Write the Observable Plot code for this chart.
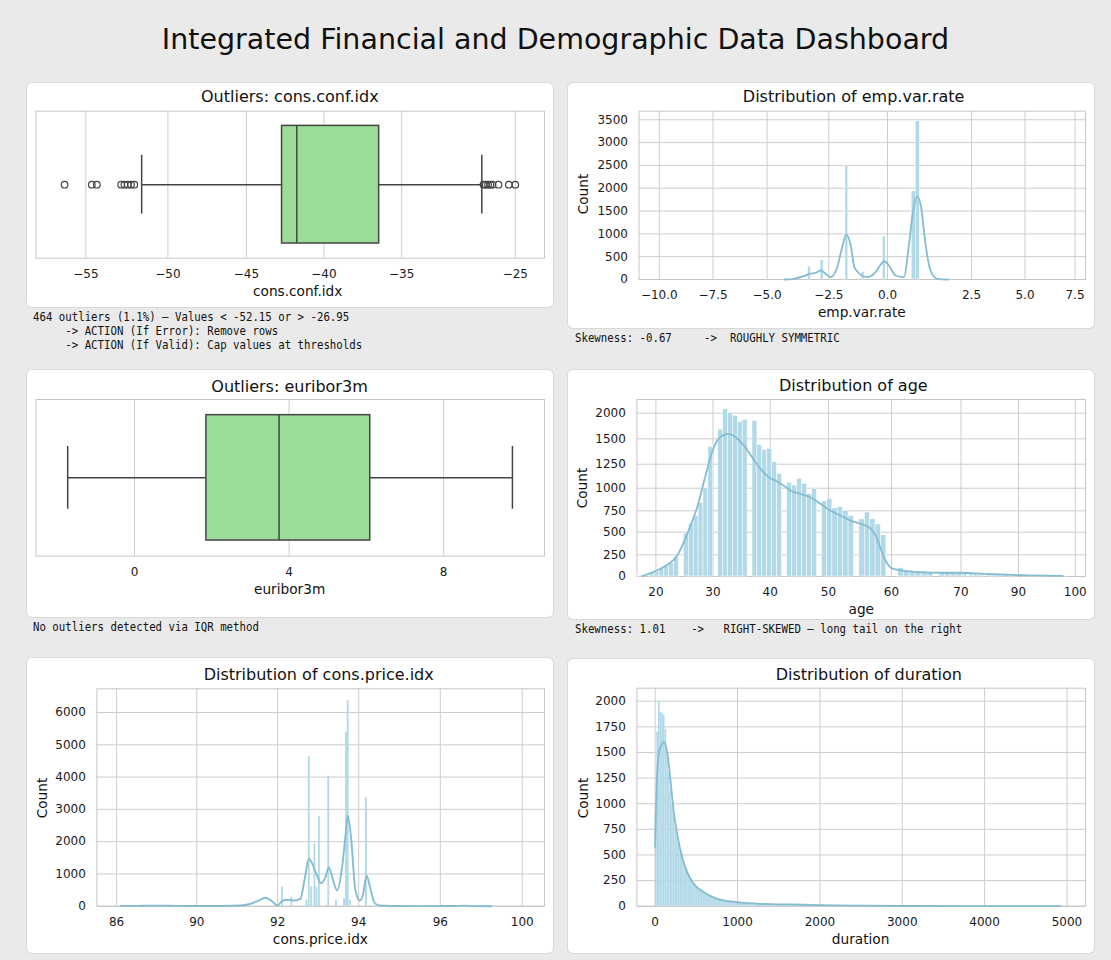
<!DOCTYPE html>
<html>
<head>
<meta charset="utf-8">
<script src="https://cdn.jsdelivr.net/npm/d3@7"></script>
<script src="https://cdn.jsdelivr.net/npm/@observablehq/plot@0.6"></script>
<style>
  html, body { margin: 0; padding: 0; background: #eaeaea; }
  body { font-family: "DejaVu Sans", sans-serif; color: #111; }
  #root { position: relative; width: 1111px; height: 960px; overflow: hidden; }
  .main-title { position: absolute; left: 0; top: 26px; width: 1111px; text-align: center; font-size: 28.5px; line-height: 28px; color: #111; }
  .panel { position: absolute; background: #fff; border-radius: 5px; box-shadow: 0 0 0 1px #d9d9d9; }
  .panel svg { position: absolute; left: 0; top: 0; }
  .ptitle { position: absolute; font-size: 16px; line-height: 16px; white-space: nowrap; transform: translate(-50%, -50%); color: #111; }
  .xlab { position: absolute; font-size: 13.7px; line-height: 14px; white-space: nowrap; transform: translate(-50%, -50%); color: #111; }
  .ylab { position: absolute; font-size: 13.7px; line-height: 14px; white-space: nowrap; transform: translate(-50%, -50%) rotate(-90deg); color: #111; }
  .note { position: absolute; font-family: "DejaVu Sans Mono", monospace; font-size: 11.4px; line-height: 14.2px; white-space: pre; color: #111; transform: scaleX(0.941); transform-origin: 0 0; }
</style>
</head>
<body>
<div id="root"></div>
<script>
// ======================= DATA =======================

// --- Outliers: cons.conf.idx (box plot) ---
const confStats = [-51.6, -42.7, -41.75, -36.45, -27.95]; // lower whisker, Q1, median, Q3, upper whisker
const confOutliers = [-56.3, -54.64, -54.33, -52.85, -52.65, -52.45, -52.25, -52.05,
                      -27.8, -27.6, -27.4, -27.2, -27.0, -26.48, -25.57, -25.0];
const confTicks = [-55, -50, -45, -40, -35, -25];

// --- Outliers: euribor3m (box plot) ---
const euriborStats = [-1.73, 1.86, 3.74, 6.10, 9.78];
const euriborTicks = [0, 4, 8];

// --- Distribution of emp.var.rate ---
const empTicks = [-10, -7.5, -5, -2.5, 0, 2.5, 5, 7.5];
const empYTicks = [0, 500, 1000, 1500, 2000, 2500, 3000, 3500];
const empBinCenters = [-3.28, -2.77, -1.73, -1.04, -0.14, 0.78, 0.90];
const empBinCounts  = [280, 420, 2480, 160, 940, 1930, 3470];
const empKdeX = [-4.3, -3.92, -3.52, -3.28, -3.04, -2.81, -2.63, -2.43, -2.14, -1.93, -1.76, -1.58, -1.41, -1.15, -0.87,
                 -0.51, -0.30, -0.13, 0.04, 0.24, 0.49, 0.63, 0.75, 0.88, 1.0, 1.13, 1.28, 1.48, 1.8];
const empKdeY = [0, 15, 72, 125, 147, 197, 125, 50, 270, 708, 985, 782, 270, 110, 50,
                 160, 322, 401, 307, 88, 50, 708, 1440, 1820, 1585, 782, 197, 15, 0];

// --- Distribution of age ---
const ageXTicks = [20, 30, 40, 50, 60, 70, 90, 100];
const ageYTicks = [0, 250, 500, 750, 1000, 1250, 1500, 2000];
const ageYears = [17, 18, 19, 20, 21, 22, 23, 24, 25, 26, 27, 28, 29, 30, 31, 32, 33, 34, 35, 36,
                  37, 38, 39, 40, 41, 42, 43, 44, 45, 46, 47, 48, 49, 50, 51, 52, 53, 54, 55, 56,
                  57, 58, 59, 60, 61, 62, 63, 64, 65, 66, 67, 68, 69, 70, 71, 72, 73, 74, 75, 76,
                  77, 78, 79, 80, 81, 82, 83, 84, 85, 86, 87, 88, 89, 90, 91, 92, 93, 94, 95, 96, 97, 98];
const ageCounts = [5, 12, 35, 55, 90, 125, 150, 220, 480, 600, 690, 840, 1000, 1420, 1680, 2080, 2000, 1950, 1830, 1870,
                   1850, 1440, 1390, 1400, 1270, 1146, 1056, 1028, 1098, 1046, 932, 993, 855, 882, 775, 790, 750, 690, 650, 730,
                   650, 590, 465, 0, 95, 65, 60, 55, 50, 48, 45, 42, 40, 38, 35, 33, 30, 28, 26, 24,
                   22, 20, 18, 17, 15, 14, 12, 11, 10, 9, 8, 7, 6, 5, 5, 4, 4, 3, 3, 2, 2, 2];
const ageKdeX = [17.6, 19.05, 20.8, 22.26, 23.73, 24.89, 26.06, 27.23, 28.39, 29.56, 30.73, 31.89, 32.76, 33.94, 35.39,
                 36.85, 38.3, 39.76, 41.18, 42.6, 43.46, 45.17, 46.9, 48.6, 50.3, 51.9, 53.5, 55.1, 56.4, 57.5,
                 58.3, 59.05, 59.8, 60.58, 62.26, 64.17, 67.05, 70, 78, 86.4, 92, 97.8];
const ageKdeY = [3, 38, 89, 146, 242, 390, 578, 790, 1062, 1319, 1483, 1578, 1598, 1531, 1434,
                 1319, 1202, 1115, 1070, 1014, 975, 938, 900, 827, 753, 695, 636, 598, 558, 463,
                 313, 184, 107, 81, 61, 50, 43, 43, 30, 20, 13, 8];

// --- Distribution of cons.price.idx ---
const priceXTicks = [86, 90, 92, 94, 96, 100];
const priceYTicks = [0, 1000, 2000, 3000, 4000, 5000, 6000];
const priceBinCenters = [92.12, 92.35, 92.72, 92.78, 92.84, 92.92, 92.97, 93.03, 93.26, 93.45, 93.65, 93.70, 93.74, 93.80, 94.19];
const priceBinCounts  = [590, 280, 200, 4640, 600, 1930, 580, 2780, 4030, 170, 230, 5390, 6370, 180, 3360];
const priceKdeX = [86.2, 87.0, 88.0, 89.0, 90.0, 90.6, 91.08, 91.33, 91.53, 91.70, 91.86, 91.99, 92.11, 92.23, 92.40,
                   92.56, 92.66, 92.77, 92.88, 92.97, 93.07, 93.18, 93.26, 93.37, 93.47, 93.59, 93.67, 93.73, 93.81, 93.92,
                   94.03, 94.11, 94.19, 94.28, 94.38, 94.5, 94.8, 95.5, 96.5, 97.2, 97.6, 98.5];
const priceKdeY = [8, 10, 14, 10, 6, 8, 20, 75, 176, 260, 155, 20, 155, 198, 176,
                   229, 796, 1468, 1240, 951, 713, 898, 1208, 796, 486, 1208, 2138, 2810, 2138, 486,
                   176, 384, 951, 589, 124, 20, 5, 3, 5, 18, 3, 0];

// --- Distribution of duration ---
const durXTicks = [0, 1000, 2000, 3000, 4000, 5000];
const durYTicks = [0, 250, 500, 750, 1000, 1250, 1500, 1750, 2000];
const durEdges = d3.range(0, 1000, 20).concat([1000, 1100, 1200, 1300, 1400, 1500, 1700, 1900, 2200, 2500, 3000, 3600, 4200, 4920]);
const durCounts = [900, 1700, 2000, 1890, 1880, 1860, 1720, 1500, 1300, 1130,
                   990, 870, 770, 690, 610, 545, 485, 430, 385, 345,
                   310, 280, 252, 228, 207, 190, 175, 162, 150, 140,
                   130, 121, 113, 106, 99, 92, 84, 76, 70, 64,
                   59, 55, 51, 48, 45, 43, 41, 40, 39, 38,
                   34, 29, 24, 20, 16, 12, 9, 6, 4, 3, 1.5, 1, 0.5];
const durKdeX = [0, 8, 24, 44, 73, 104, 137, 165, 194, 226, 267, 328, 388, 468, 590, 752, 995, 1278, 1642, 2000, 2500, 3000, 4000, 4920];
const durKdeY = [580, 900, 1292, 1487, 1568, 1600, 1536, 1389, 1161, 917, 706, 478, 332, 218, 137, 72, 39, 23, 17, 10, 5, 2, 1, 0];

// --- Texts ---
const mainTitle = "Integrated Financial and Demographic Data Dashboard";
const note1 = "464 outliers (1.1%) \u2013 Values < -52.15 or > -26.95\n     -> ACTION (If Error): Remove rows\n     -> ACTION (If Valid): Cap values at thresholds";
const note2 = "Skewness: -0.67     ->  ROUGHLY SYMMETRIC";
const note3 = "No outliers detected via IQR method";
const note4 = "Skewness: 1.01    ->   RIGHT-SKEWED \u2013 long tail on the right";

// ======================= STYLE / LAYOUT =======================
const gridColor = "#cdcdcd";
const frameColor = "#c6c6c6";
const barFill = "#b2d9e7";
const kdeColor = "#86bccf";
const boxFill = "#9bdd98";
const boxLine = "#444444";
const BOX_W = 0.8, CAP_W = 0.4;

const baseStyle = {background: "transparent", fontFamily: "'DejaVu Sans', sans-serif", fontSize: "12px", color: "#1a1a1a", overflow: "visible"};
const fmtInt = d3.format("d");
const ax = (extra) => Object.assign({tickSize: 0, tickPadding: 11, label: null}, extra);

// pixel anchors of the (uneven) tick grid in the reference, per panel
const confAxisPx  = [58.4, 140.4, 218.9, 296.4, 374.2, 487.8];
const empAxisPx   = [90.8, 144.5, 198.6, 260.3, 319, 403, 456.5, 506.5];
const ageAxisPx   = [87.4, 144.5, 201.7, 260, 323, 392.5, 450, 506.8];
const ageYAxisPx  = [206, 184.3, 161.7, 140.3, 117.7, 93.7, 68.3, 42.7];
const priceAxisPx = [89.1, 169.3, 250.2, 331.2, 412.8, 494.7];

// ======================= HELPERS =======================
const root = document.getElementById("root");

function el(parent, cls, text, css) {
  const d = document.createElement("div");
  d.className = cls;
  d.textContent = text;
  Object.assign(d.style, css);
  parent.appendChild(d);
  return d;
}

function addPanel(p) {
  const div = document.createElement("div");
  div.className = "panel";
  Object.assign(div.style, {left: p.left + "px", top: p.top + "px", width: p.width + "px", height: p.height + "px"});
  div.appendChild(p.chart);
  el(div, "ptitle", p.title, {left: p.titleX + "px", top: p.titleY + "px"});
  el(div, "xlab", p.xlabel, {left: p.xlabelX + "px", top: p.xlabelY + "px"});
  if (p.ylabel) el(div, "ylab", p.ylabel, {left: p.ylabelX + "px", top: p.ylabelY + "px"});
  root.appendChild(div);
}

function boxMarks(stats, outliers) {
  const b = [{lo: stats[0], q1: stats[1], med: stats[2], q3: stats[3], hi: stats[4]}];
  const s = {stroke: boxLine, strokeWidth: 1.5};
  return [
    Plot.ruleY(b, {y: 0, x1: "lo", x2: "q1", ...s}),
    Plot.ruleY(b, {y: 0, x1: "q3", x2: "hi", ...s}),
    Plot.ruleX(b, {x: "lo", y1: -CAP_W / 2, y2: CAP_W / 2, ...s}),
    Plot.ruleX(b, {x: "hi", y1: -CAP_W / 2, y2: CAP_W / 2, ...s}),
    Plot.rect(b, {x1: "q1", x2: "q3", y1: -BOX_W / 2, y2: BOX_W / 2, fill: boxFill, ...s}),
    Plot.ruleX(b, {x: "med", y1: -BOX_W / 2, y2: BOX_W / 2, ...s}),
    Plot.dot(outliers, {x: d => d, y: 0, r: 3.3, stroke: boxLine, strokeWidth: 1.2, fill: "none"})
  ];
}

const binTable = (centers, counts, w) => centers.map((c, i) => ({x1: c - w / 2, x2: c + w / 2, n: counts[i]}));
const lineTable = (xs, ys) => xs.map((x, i) => ({x, y: ys[i]}));

// ======================= PANEL 1: cons.conf.idx box =======================
addPanel({
  left: 27, top: 83, width: 526, height: 224,
  title: "Outliers: cons.conf.idx", titleX: 262.8, titleY: 14.3,
  xlabel: "cons.conf.idx", xlabelX: 270.7, xlabelY: 207.7,
  chart: Plot.plot({
    width: 526, height: 224, marginLeft: 8.5, marginRight: 9, marginTop: 27.7, marginBottom: 49.3,
    style: baseStyle,
    x: ax({type: "linear", domain: confTicks, range: confAxisPx, ticks: confTicks, tickFormat: d3.format("d")}),
    y: {domain: [-0.5, 0.5], axis: null},
    marks: [
      Plot.ruleX(confTicks, {stroke: gridColor}),
      Plot.frame({stroke: frameColor}),
      ...boxMarks(confStats, confOutliers)
    ]
  })
});

// ======================= PANEL 2: emp.var.rate hist =======================
addPanel({
  left: 568, top: 83, width: 526, height: 245,
  title: "Distribution of emp.var.rate", titleX: 285.6, titleY: 14.3,
  xlabel: "emp.var.rate", xlabelX: 293.8, xlabelY: 228.7,
  ylabel: "Count", ylabelX: 15.4, ylabelY: 111.3,
  chart: Plot.plot({
    width: 526, height: 245, marginLeft: 70.5, marginRight: 9, marginTop: 27.7, marginBottom: 49,
    style: baseStyle,
    x: ax({type: "linear", domain: empTicks, range: empAxisPx, ticks: empTicks, tickFormat: d3.format(".1f")}),
    y: ax({domain: [0, 3688], ticks: empYTicks, tickFormat: fmtInt}),
    marks: [
      Plot.ruleX(empTicks, {stroke: gridColor}),
      Plot.ruleY(empYTicks, {stroke: gridColor}),
      Plot.frame({stroke: frameColor}),
      Plot.rect(binTable(empBinCenters, empBinCounts, 0.12), {x1: "x1", x2: "x2", y1: 0, y2: "n", fill: barFill, stroke: "#fff", strokeWidth: 0.4}),
      Plot.line(lineTable(empKdeX, empKdeY), {x: "x", y: "y", stroke: kdeColor, strokeWidth: 1.8, curve: "monotone-x"})
    ]
  })
});

// ======================= PANEL 3: euribor3m box =======================
addPanel({
  left: 27, top: 370, width: 526, height: 247,
  title: "Outliers: euribor3m", titleX: 262.5, titleY: 16.7,
  xlabel: "euribor3m", xlabelX: 262.6, xlabelY: 219,
  chart: Plot.plot({
    width: 526, height: 247, marginLeft: 8.5, marginRight: 9, marginTop: 29, marginBottom: 61.3,
    style: baseStyle,
    x: ax({domain: [-2.55, 10.61], ticks: euriborTicks, tickFormat: fmtInt}),
    y: {domain: [-0.5, 0.5], axis: null},
    marks: [
      Plot.ruleX(euriborTicks, {stroke: gridColor}),
      Plot.frame({stroke: frameColor}),
      ...boxMarks(euriborStats, [])
    ]
  })
});

// ======================= PANEL 4: age hist =======================
const ageTable = ageYears.map((a, i) => ({age: a, n: ageCounts[i]}));
addPanel({
  left: 568, top: 370, width: 526, height: 249,
  title: "Distribution of age", titleX: 285.3, titleY: 15.7,
  xlabel: "age", xlabelX: 293.3, xlabelY: 239,
  ylabel: "Count", ylabelX: 14.4, ylabelY: 118.3,
  chart: Plot.plot({
    width: 526, height: 249, marginLeft: 68.4, marginRight: 9, marginTop: 29, marginBottom: 43,
    style: baseStyle,
    x: ax({type: "linear", domain: ageXTicks, range: ageAxisPx, ticks: ageXTicks, tickFormat: fmtInt}),
    y: ax({type: "linear", domain: ageYTicks, range: ageYAxisPx, ticks: ageYTicks, tickFormat: fmtInt}),
    marks: [
      Plot.ruleX(ageXTicks, {stroke: gridColor}),
      Plot.ruleY(ageYTicks, {stroke: gridColor}),
      Plot.frame({stroke: frameColor}),
      Plot.rectY(ageTable, Plot.binX({y: "sum"}, {x: "age", y: "n", thresholds: d3.range(16.337, 99, 0.857), fill: barFill, stroke: "#fff", strokeWidth: 0.5, inset: 0})),
      Plot.line(lineTable(ageKdeX, ageKdeY), {x: "x", y: "y", stroke: kdeColor, strokeWidth: 1.8, curve: "monotone-x"})
    ]
  })
});

// ======================= PANEL 5: cons.price.idx hist =======================
addPanel({
  left: 27, top: 658, width: 526, height: 295,
  title: "Distribution of cons.price.idx", titleX: 291.7, titleY: 17,
  xlabel: "cons.price.idx", xlabelX: 293.4, xlabelY: 281,
  ylabel: "Count", ylabelX: 15.4, ylabelY: 140.3,
  chart: Plot.plot({
    width: 526, height: 295, marginLeft: 69.4, marginRight: 9, marginTop: 30.3, marginBottom: 47.3,
    style: baseStyle,
    x: ax({type: "linear", domain: priceXTicks, range: priceAxisPx, ticks: priceXTicks, tickFormat: fmtInt}),
    y: ax({domain: [0, 6735], ticks: priceYTicks, tickFormat: fmtInt}),
    marks: [
      Plot.ruleX(priceXTicks, {stroke: gridColor}),
      Plot.ruleY(priceYTicks, {stroke: gridColor}),
      Plot.frame({stroke: frameColor}),
      Plot.rect(binTable(priceBinCenters, priceBinCounts, 0.045), {x1: "x1", x2: "x2", y1: 0, y2: "n", fill: barFill}),
      Plot.line(lineTable(priceKdeX, priceKdeY), {x: "x", y: "y", stroke: kdeColor, strokeWidth: 1.9, curve: "monotone-x"})
    ]
  })
});

// ======================= PANEL 6: duration hist =======================
const durTable = durCounts.map((n, i) => ({x1: durEdges[i], x2: durEdges[i + 1], n}));
addPanel({
  left: 568, top: 659, width: 526, height: 294,
  title: "Distribution of duration", titleX: 300.8, titleY: 16,
  xlabel: "duration", xlabelX: 292.6, xlabelY: 280,
  ylabel: "Count", ylabelX: 15, ylabelY: 139.3,
  chart: Plot.plot({
    width: 526, height: 294, marginLeft: 68.4, marginRight: 9, marginTop: 28.7, marginBottom: 47.3,
    style: baseStyle,
    x: ax({domain: [-222, 5225], ticks: durXTicks, tickFormat: fmtInt}),
    y: ax({domain: [0, 2127], ticks: durYTicks, tickFormat: fmtInt}),
    marks: [
      Plot.ruleX(durXTicks, {stroke: gridColor}),
      Plot.ruleY(durYTicks, {stroke: gridColor}),
      Plot.frame({stroke: frameColor}),
      Plot.rect(durTable, {x1: "x1", x2: "x2", y1: 0, y2: "n", fill: barFill}),
      Plot.line(lineTable(durKdeX, durKdeY), {x: "x", y: "y", stroke: kdeColor, strokeWidth: 1.8, curve: "monotone-x"})
    ]
  })
});

// ======================= TITLE & NOTES =======================
el(root, "main-title", mainTitle, {});
el(root, "note", note1, {left: "33px", top: "309.6px"});
el(root, "note", note2, {left: "574.5px", top: "331.2px"});
el(root, "note", note3, {left: "33px", top: "620.2px"});
el(root, "note", note4, {left: "574.5px", top: "622.2px"});
</script>
</body>
</html>
